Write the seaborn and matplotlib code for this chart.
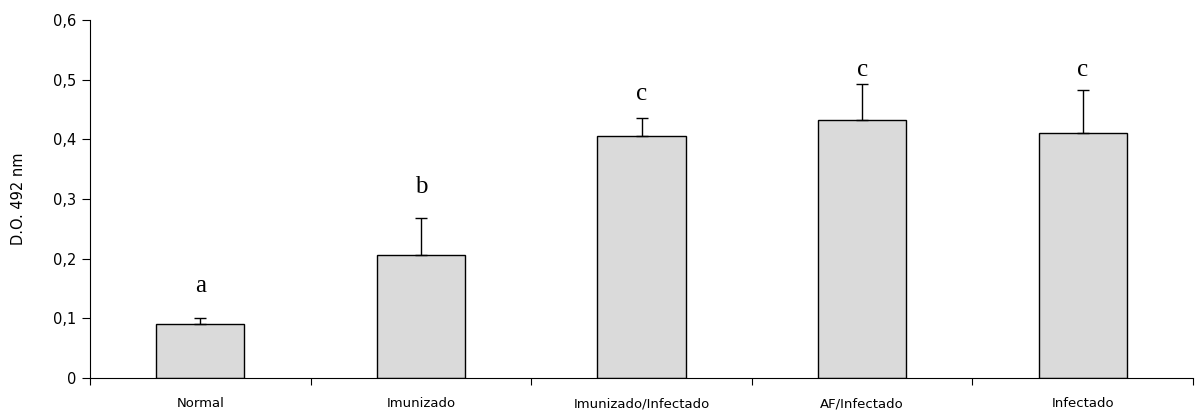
import matplotlib
matplotlib.use("Agg")
import matplotlib.pyplot as plt
import seaborn as sns
import pandas as pd
import numpy as np

categories = ["Normal", "Imunizado", "Imunizado/Infectado", "AF/Infectado", "Infectado"]
means = [0.090, 0.206, 0.406, 0.433, 0.410]
errors = [0.011, 0.062, 0.029, 0.059, 0.073]
letters = ["a", "b", "c", "c", "c"]
letter_y = [0.136, 0.302, 0.458, 0.498, 0.498]
yticks = [0, 0.1, 0.2, 0.3, 0.4, 0.5, 0.6]
ytick_labels = ["0", "0,1", "0,2", "0,3", "0,4", "0,5", "0,6"]

sns.set_theme(style="ticks")
plt.rcParams['font.family'] = ['DejaVu Sans']
plt.rcParams['text.color'] = 'black'
plt.rcParams['axes.labelcolor'] = 'black'
plt.rcParams['xtick.color'] = 'black'
plt.rcParams['ytick.color'] = 'black'

df = pd.DataFrame({"grupo": categories, "valor": means})

fig = plt.figure(figsize=(11.97, 4.16), dpi=100)
ax = fig.add_axes([90/1197, 1 - 378/416, (1193 - 90)/1197, (378 - 20)/416])

sns.barplot(data=df, x="grupo", y="valor", ax=ax, color="#dadada",
            width=0.40, edgecolor="black", linewidth=1.0, saturation=1)

xpos = np.arange(len(categories))
ax.errorbar(xpos, means, yerr=[np.zeros(len(errors)), errors], fmt="none",
            ecolor="black", elinewidth=1.0, capsize=4, capthick=1.0)

for x, ly, t in zip(xpos, letter_y, letters):
    ax.text(x, ly, t, ha="center", va="bottom", fontsize=18, color="black",
            family=["Liberation Serif", "DejaVu Serif"])

ax.set_xlim(-0.5, len(categories) - 0.5)
ax.set_ylim(0, 0.6)
ax.set_yticks(yticks)
ax.set_yticklabels(ytick_labels, fontsize=10.5)
ax.set_xticks(xpos)
ax.set_xticklabels(categories, fontsize=9.5)
ax.set_xticks(np.arange(-0.5, len(categories), 1.0), minor=True)
ax.tick_params(axis="x", which="major", length=0, pad=14)
ax.tick_params(axis="x", which="minor", length=5, width=0.8, direction="out")
ax.tick_params(axis="y", length=6, width=0.8, direction="out", pad=4)
ax.set_xlabel("")
ax.set_ylabel("D.O. 492 nm", fontsize=10.5, labelpad=19)

for s in ["top", "right"]:
    ax.spines[s].set_visible(False)
for s in ["left", "bottom"]:
    ax.spines[s].set_linewidth(0.8)
    ax.spines[s].set_color("black")

fig.savefig("out.png", dpi=100)
